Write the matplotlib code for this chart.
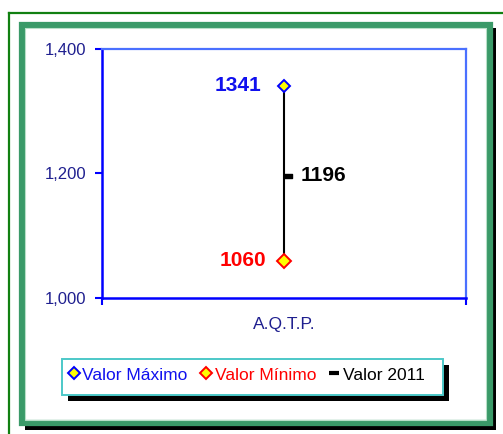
import matplotlib
matplotlib.use("Agg")
import matplotlib.pyplot as plt
from matplotlib.patches import Rectangle
from matplotlib.lines import Line2D

plt.rcParams['font.family'] = ['Liberation Sans', 'DejaVu Sans']

categories = ["A.Q.T.P."]
valor_maximo = [1341]
valor_minimo = [1060]
valor_2011 = [1196]
y_ticks = [1000, 1200, 1400]

W, H = 503, 434
fig = plt.figure(figsize=(W / 100, H / 100), dpi=100)

def fx(px):
    return px / W

def fy(py):
    return 1 - py / H

# outer thin green frame (top and left edges visible)
fig.add_artist(Line2D([fx(8.5), fx(503)], [fy(12.5), fy(12.5)], transform=fig.transFigure,
                      color='#118011', linewidth=1.6))
fig.add_artist(Line2D([fx(8.5), fx(8.5)], [fy(12.5), fy(434)], transform=fig.transFigure,
                      color='#118011', linewidth=1.6))
# shadow of inner frame
fig.add_artist(Rectangle((fx(25), fy(429.5)), fx(471), 401.5 / H, transform=fig.transFigure,
                         facecolor='black', edgecolor='none'))
# inner thick green frame
fig.add_artist(Rectangle((fx(21.5), fy(423)), fx(468), 398 / H, transform=fig.transFigure,
                         facecolor='white', edgecolor='#3a9a68', linewidth=4.5))
fig.add_artist(Rectangle((fx(24.8), fy(419.6)), fx(461.4), 391.2 / H, transform=fig.transFigure,
                         facecolor='none', edgecolor='#b8e0c8', linewidth=0.8))

ax = fig.add_axes([fx(102), fy(298), fx(364), 249 / H])
ax.set_zorder(3)
x = list(range(len(categories)))

# high-low line
for xi, lo, hi in zip(x, valor_minimo, valor_maximo):
    ax.plot([xi, xi], [lo, hi], color='black', linewidth=1.5, zorder=2)

dash = [(0, -0.3), (1, -0.3), (1, 0.3), (0, 0.3), (0, -0.3)]
ax.plot(x, valor_2011, linestyle='none', marker=dash, markersize=11.5,
        color='black', zorder=3)
ax.plot(x, valor_maximo, linestyle='none', marker='D', markersize=6.5,
        markerfacecolor='#ffff00', markeredgecolor='#0000ff', markeredgewidth=1.4, zorder=4)
ax.plot(x, valor_minimo, linestyle='none', marker='D', markersize=7,
        markerfacecolor='#ffff00', markeredgecolor='#ff0000', markeredgewidth=1.4, zorder=4)

for xi, v in zip(x, valor_maximo):
    ax.annotate(str(v), (xi, v), xytext=(-16, 0), textcoords='offset points',
                ha='right', va='center', fontsize=15, fontweight='bold', color='#1010ee')
for xi, v in zip(x, valor_minimo):
    ax.annotate(str(v), (xi, v), xytext=(-13, 0), textcoords='offset points',
                ha='right', va='center', fontsize=15, fontweight='bold', color='#ff0000')
for xi, v in zip(x, valor_2011):
    ax.annotate(str(v), (xi, v), xytext=(12, 0), textcoords='offset points',
                ha='left', va='center', fontsize=15, fontweight='bold', color='black')

ax.set_xlim(-0.5, len(categories) - 0.5)
ax.set_ylim(y_ticks[0], y_ticks[-1])
ax.set_yticks(y_ticks)
ax.set_yticklabels([f"{v:,}" for v in y_ticks])
ax.set_xticks([i - 0.5 for i in range(len(categories) + 1)])
ax.set_xticklabels([])
ax.set_xticks(x, minor=True)
ax.set_xticklabels(categories, minor=True)
ax.tick_params(axis='x', which='major', direction='out', length=5, width=1.5, color='#0000ff')
ax.tick_params(axis='x', which='minor', length=0, pad=14, labelsize=12.5, labelcolor='#1f1f8f')
ax.tick_params(axis='y', direction='out', length=5, width=1.5, color='#0000ff',
               labelsize=12, labelcolor='#1f1f8f', pad=6)

for s in ['left', 'bottom']:
    ax.spines[s].set_color('#0000ff')
    ax.spines[s].set_linewidth(1.8)
for s in ['top', 'right']:
    ax.spines[s].set_color('#4a70ff')
    ax.spines[s].set_linewidth(1.6)

# legend frame with shadow
fig.add_artist(Rectangle((fx(68), fy(401)), fx(381), 36 / H, transform=fig.transFigure,
                         facecolor='black', edgecolor='none', zorder=4))
fig.add_artist(Rectangle((fx(62), fy(395)), fx(381), 36 / H, transform=fig.transFigure,
                         facecolor='white', edgecolor='#4cc8c8', linewidth=1.4, zorder=5))

handles = [
    Line2D([], [], linestyle='none', marker='D', markersize=6, markerfacecolor='#ffff00',
           markeredgecolor='#0000ff', markeredgewidth=1.4),
    Line2D([], [], linestyle='none', marker='D', markersize=6.5, markerfacecolor='#ffff00',
           markeredgecolor='#ff0000', markeredgewidth=1.4),
    Line2D([], [], linestyle='none', marker='_', markersize=7, markeredgewidth=3,
           color='black'),
]
labels = ["Valor Máximo", "Valor Mínimo", "Valor 2011"]
leg = fig.legend(handles, labels, loc='center left', bbox_to_anchor=(fx(64), fy(375)),
                 ncol=3, frameon=False, fontsize=12.5, handlelength=0.7, handletextpad=0.15,
                 columnspacing=0.7, borderaxespad=0, borderpad=0.2)
leg.set_zorder(6)
for t, c in zip(leg.get_texts(), ['#1010ee', '#ff0000', 'black']):
    t.set_color(c)

fig.savefig("out.png", dpi=100)
